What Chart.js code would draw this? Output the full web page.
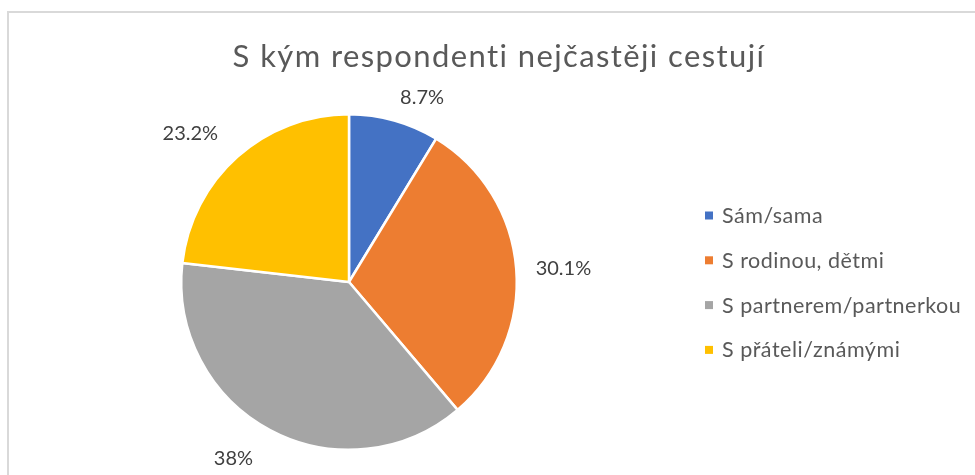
<!DOCTYPE html>
<html>
<head>
<meta charset="utf-8">
<script src="https://cdn.jsdelivr.net/npm/chart.js@4.4.1/dist/chart.umd.min.js"></script>
<style>
    html, body { margin: 0; padding: 0; background: #fff; }
    #wrap { position: relative; width: 975px; height: 475px; overflow: hidden; }
    #frame {
        position: absolute; left: 7px; top: 11px; width: 990px; height: 490px;
        border-left: 2px solid #d9d9d9; border-top: 2px solid #d9d9d9;
    }
    canvas { position: absolute; left: 0; top: 0; }
</style>
</head>
<body>
<div id="wrap">
    <div id="frame"></div>
    <canvas id="pieChart" width="975" height="475"></canvas>
</div>
<script>
// Data
const chartTitle = 'S kým respondenti nejčastěji cestují';
const categories = ['Sám/sama', 'S rodinou, dětmi', 'S partnerem/partnerkou', 'S přáteli/známými'];
const shares = [8.7, 30.1, 38, 23.2];
const sliceColors = ['#4472C4', '#ED7D31', '#A5A5A5', '#FFC000'];

const fontFamily = 'Lato, "Open Sans", sans-serif';
// small hand nudges so the labels sit where Excel's "best fit" put them
const labelNudge = [[19, 8], [0, 3], [-20, -3], [-18, 9]];

// Title, outside percentage labels and right-hand legend (Excel look)
const excelDecor = {
    id: 'excelDecor',
    afterDatasetsDraw(chart) {
        const ctx = chart.ctx;
        ctx.save();

        // title
        ctx.font = '400 31px ' + fontFamily;
        ctx.letterSpacing = '1.4px';
        ctx.fillStyle = '#595959';
        ctx.textAlign = 'center';
        ctx.textBaseline = 'alphabetic';
        ctx.fillText(chartTitle, 499, 67);

        // percentage labels outside each slice
        const meta = chart.getDatasetMeta(0);
        ctx.font = '20px ' + fontFamily;
        ctx.letterSpacing = '0px';
        ctx.fillStyle = '#404040';
        ctx.textBaseline = 'middle';
        meta.data.forEach((arc, i) => {
            const p = arc.getProps(['x', 'y', 'startAngle', 'endAngle', 'outerRadius'], true);
            const mid = (p.startAngle + p.endAngle) / 2;
            const text = shares[i] + '%';
            const w = ctx.measureText(text).width;
            const h = 16;
            const cx = Math.cos(mid), cy = Math.sin(mid);
            const extent = Math.abs(cx) * w / 2 + Math.abs(cy) * h / 2;
            const dist = p.outerRadius + 19 + extent;
            ctx.fillText(text, p.x + cx * dist + labelNudge[i][0], p.y + cy * dist + labelNudge[i][1]);
        });

        // legend
        ctx.font = '21.5px ' + fontFamily;
        ctx.letterSpacing = '0.5px';
        ctx.textAlign = 'left';
        ctx.textBaseline = 'alphabetic';
        categories.forEach((label, i) => {
            const base = 223 + i * 44.8;
            ctx.fillStyle = sliceColors[i];
            ctx.fillRect(705, base - 11.5, 8, 8);
            ctx.fillStyle = '#595959';
            ctx.fillText(label, 722, base);
        });

        ctx.restore();
    }
};

new Chart(document.getElementById('pieChart').getContext('2d'), {
    type: 'pie',
    data: {
        labels: categories,
        datasets: [{
            data: shares,
            backgroundColor: sliceColors,
            borderColor: '#ffffff',
            borderWidth: 2.5
        }]
    },
    options: {
        responsive: false,
        animation: false,
        layout: {
            padding: { left: 180, top: 113, right: 457, bottom: 24 }
        },
        plugins: {
            legend: { display: false },
            title: { display: false },
            tooltip: { enabled: false }
        }
    },
    plugins: [excelDecor]
});
</script>
</body>
</html>
